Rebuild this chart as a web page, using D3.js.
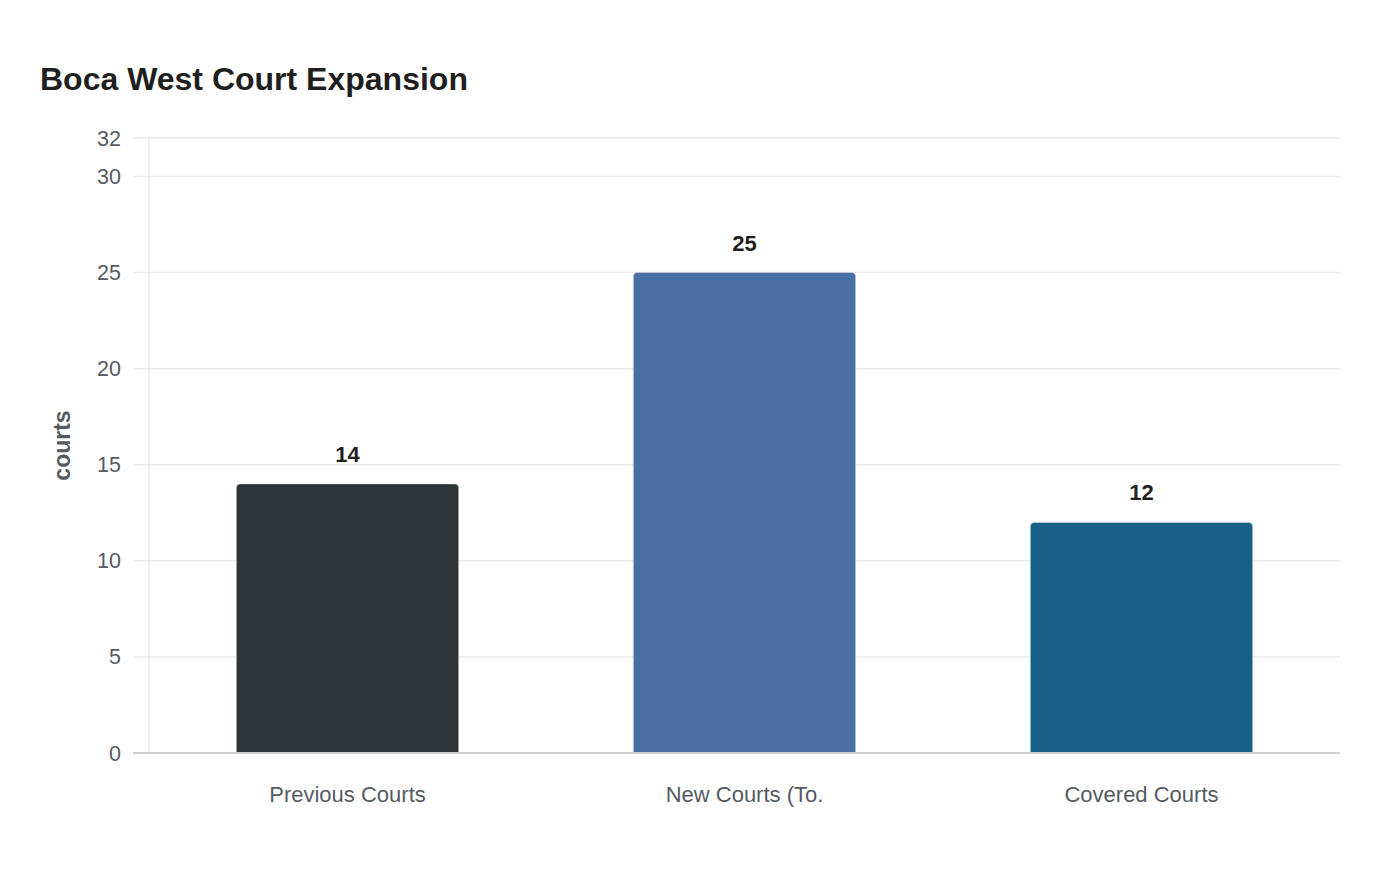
<!DOCTYPE html>
<html>
<head>
<meta charset="utf-8">
<script src="https://cdn.jsdelivr.net/npm/d3@7"></script>
<style>
  body { margin: 0; background: #fff; font-family: "Liberation Sans", Arial, sans-serif; }
</style>
</head>
<body>
<div id="chart"></div>
<script>
const categories = ["Previous Courts", "New Courts (To.", "Covered Courts"];
const values = [14, 25, 12];
const colors = ["#2e3538", "#4a6fa5", "#176087"];
const yTicks = [0, 5, 10, 15, 20, 25, 30, 32];

const width = 1400, height = 880;
const margin = { top: 138, right: 60, bottom: 127, left: 149 };

const svg = d3.select("#chart").append("svg")
  .attr("width", width).attr("height", height);

svg.append("text")
  .attr("x", 40).attr("y", 90)
  .attr("font-size", 32).attr("font-weight", "bold")
  .attr("fill", "#1f1f1f")
  .text("Boca West Court Expansion");

const x = d3.scaleBand()
  .domain(categories)
  .range([margin.left, width - margin.right])
  .paddingInner(0.44).paddingOuter(0.22);

const y = d3.scaleLinear()
  .domain([0, 32])
  .range([height - margin.bottom, margin.top]);

// grid
svg.append("g")
  .selectAll("line")
  .data(yTicks.filter(d => d > 0))
  .join("line")
  .attr("x1", margin.left - 16).attr("x2", width - margin.right)
  .attr("y1", d => y(d)).attr("y2", d => y(d))
  .attr("stroke", "#ebebeb").attr("stroke-width", 1.5);

// left axis line
svg.append("line")
  .attr("x1", margin.left).attr("x2", margin.left)
  .attr("y1", y(32)).attr("y2", y(0))
  .attr("stroke", "#e0e0e0").attr("stroke-width", 1);

// y labels
svg.append("g")
  .selectAll("text")
  .data(yTicks)
  .join("text")
  .attr("x", margin.left - 28)
  .attr("y", d => y(d))
  .attr("dy", "0.35em")
  .attr("text-anchor", "end")
  .attr("font-size", 21.5)
  .attr("fill", "#555b61")
  .text(d => d);

// bars with rounded top corners
const r = 4;
function barPath(d, i) {
  const x0 = x(categories[i]), w = x.bandwidth();
  const yt = y(d), yb = y(0);
  return `M${x0},${yb}V${yt + r}Q${x0},${yt} ${x0 + r},${yt}H${x0 + w - r}Q${x0 + w},${yt} ${x0 + w},${yt + r}V${yb}Z`;
}
svg.append("g")
  .selectAll("path")
  .data(values)
  .join("path")
  .attr("d", barPath)
  .attr("fill", (d, i) => colors[i])
  .attr("stroke", "rgba(255,255,255,0.35)")
  .attr("stroke-width", 1);

// baseline
svg.append("line")
  .attr("x1", margin.left - 16).attr("x2", width - margin.right)
  .attr("y1", y(0)).attr("y2", y(0))
  .attr("stroke", "#cfcfcf").attr("stroke-width", 2);

// value labels
svg.append("g")
  .selectAll("text")
  .data(values)
  .join("text")
  .attr("x", (d, i) => x(categories[i]) + x.bandwidth() / 2)
  .attr("y", d => y(d) - 22)
  .attr("text-anchor", "middle")
  .attr("font-size", 22).attr("font-weight", "bold")
  .attr("fill", "#1f1f1f")
  .text(d => d);

// x labels
svg.append("g")
  .selectAll("text")
  .data(categories)
  .join("text")
  .attr("x", d => x(d) + x.bandwidth() / 2)
  .attr("y", y(0) + 49)
  .attr("text-anchor", "middle")
  .attr("font-size", 22)
  .attr("fill", "#555b61")
  .text(d => d);

// y title
svg.append("text")
  .attr("transform", `translate(70,${(y(0) + y(32)) / 2}) rotate(-90)`)
  .attr("text-anchor", "middle")
  .attr("font-size", 23).attr("font-weight", "bold")
  .attr("fill", "#555b61")
  .text("courts");
</script>
</body>
</html>
